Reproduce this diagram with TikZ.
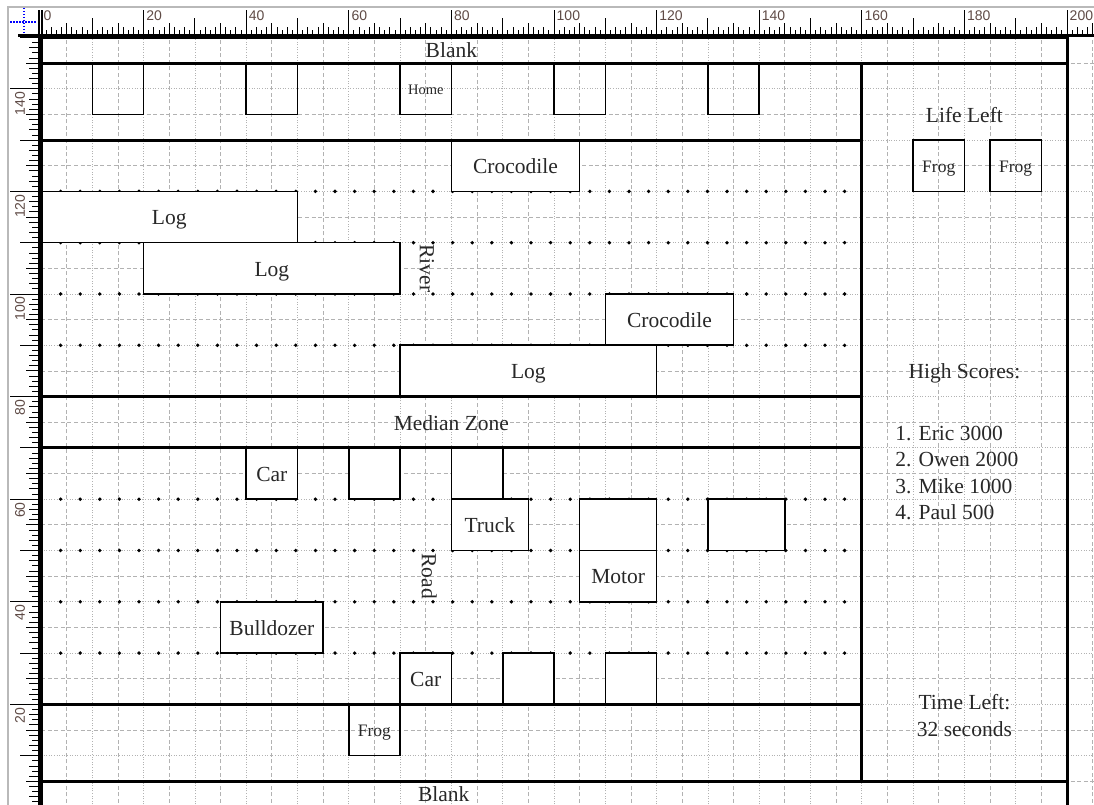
\documentclass[tikz,border=0pt]{standalone}
\usepackage{fontspec}
\setmainfont{Liberation Serif}
\newfontfamily\rulerfont{Liberation Sans}
\definecolor{gridc}{RGB}{178,178,178}
\definecolor{rulertxt}{RGB}{95,75,70}
\definecolor{txt}{RGB}{40,40,40}
\begin{document}
\begin{tikzpicture}[x=1pt,y=1pt,
  gridten/.style={draw=gridc, line width=0.8pt, dash pattern=on 1pt off 1.6pt},
  gridfive/.style={draw=gridc, line width=0.8pt, dash pattern=on 4pt off 2.6pt},
  zone/.style={draw=black, line width=3pt},
  carbox/.style={draw=black, line width=1.6pt, fill=white},
  openbox/.style={draw=black, line width=1.6pt},
  tickmark/.style={draw=black, line width=0.9pt},
  txtbase/.style={font=\fontsize{21.5}{27}\selectfont, text=txt, inner sep=0pt},
  lbl/.style={txtbase, text height=0.68em, text depth=0.22em, yshift=-5.5pt},
  smalllbl/.style={font=\fontsize{17.5}{20}\selectfont, text=txt, inner sep=0pt, yshift=-3pt},
  homelbl/.style={font=\fontsize{14.5}{17}\selectfont, text=txt, inner sep=0pt, yshift=-1pt},
  rlbl/.style={font=\rulerfont\fontsize{14}{14}\selectfont, text=rulertxt, inner sep=0pt}
]
\useasboundingbox (0,0) rectangle (1094,805);
\fill[white] (0,0) rectangle (1094,805);

% ---------- page area ----------
\begin{scope}[shift={(41,-2)}, x=5.13pt, y=5.13pt]
  % grid
  \foreach \k in {1,...,41}{
    \pgfmathtruncatemacro\m{mod(\k,2)}
    \ifnum\m=0
      \draw[gridten] (5*\k,-0.5) -- (5*\k,150);
    \else
      \draw[gridfive] (5*\k,-0.5) -- (5*\k,150);
    \fi
  }
  \foreach \k in {1,...,29}{
    \pgfmathtruncatemacro\m{mod(\k,2)}
    \ifnum\m=0
      \draw[gridten] (0,5*\k) -- (205.3,5*\k);
    \else
      \draw[gridfive] (0,5*\k) -- (205.3,5*\k);
    \fi
  }
  % lane dots
  \foreach \v in {120,110,100,90,60,50,40,30}{
    \foreach \k in {1,...,41}{
      \fill[black] (3.8207*\k,\v) circle (1.9pt);
    }
  }
  % home slots
  \foreach \u in {10,40,70,100,130}{
    \draw[openbox] (\u,135) rectangle (\u+10,145);
  }
  \node[homelbl] (home) at (75,140) {Home};
  % river
  \draw[carbox] (80,120) rectangle (105,130);
  \node[lbl] (croc1) at (92.5,125) {Crocodile};
  \draw[carbox] (0,110) rectangle (50,120);
  \node[lbl] (log1) at (25,115) {Log};
  \draw[carbox] (20,100) rectangle (70,110);
  \node[lbl] (log2) at (45,105) {Log};
  \draw[carbox] (110,90) rectangle (135,100);
  \node[lbl] (croc2) at (122.5,95) {Crocodile};
  \draw[carbox] (70,80) rectangle (120,90);
  \node[lbl] (log3) at (95,85) {Log};
  \node[txtbase, rotate=-90] (river) at (75.2,105) {River};
  % road
  \draw[carbox] (40,60) rectangle (50,70);
  \node[lbl] (car1) at (45,65) {Car};
  \draw[carbox] (60,60) rectangle (70,70);
  \draw[carbox] (80,60) rectangle (90,70);
  \draw[carbox] (80,50) rectangle (95,60);
  \node[lbl] (truck) at (87.5,55) {Truck};
  \draw[carbox] (105,50) rectangle (120,60);
  \draw[carbox] (105,40) rectangle (120,50);
  \node[lbl] (motor) at (112.5,45) {Motor};
  \draw[carbox] (130,50) rectangle (145,60);
  \draw[carbox] (35,30) rectangle (55,40);
  \node[lbl] (bulldozer) at (45,35) {Bulldozer};
  \draw[carbox] (70,20) rectangle (80,30);
  \node[lbl] (car2) at (75,25) {Car};
  \draw[carbox] (90,20) rectangle (100,30);
  \draw[carbox] (110,20) rectangle (120,30);
  \node[txtbase, rotate=-90] (road) at (75.7,45) {Road};
  % frog zone
  \draw[openbox] (60,10) rectangle (70,20);
  \node[smalllbl] (frog) at (65,15) {Frog};
  % median
  \node[lbl] (median) at (80,75) {Median Zone};
  % blanks
  \node[lbl] (blanktop) at (80,147.6) {Blank};
  \node[lbl] (blankbot) at (78.5,2.6) {Blank};
  % right panel
  \node[lbl] (life) at (180,134.9) {Life Left};
  \draw[openbox] (170,120) rectangle (180,130);
  \node[smalllbl] (lf1) at (175,125) {Frog};
  \draw[openbox] (185,120) rectangle (195,130);
  \node[smalllbl] (lf2) at (190,125) {Frog};
  \node[lbl] (high) at (180,85) {High Scores:};
  \node[lbl, anchor=west] (s1) at (166.5,72.9) {1. Eric 3000};
  \node[lbl, anchor=west] (s2) at (166.5,67.8) {2. Owen 2000};
  \node[lbl, anchor=west] (s3) at (166.5,62.7) {3. Mike 1000};
  \node[lbl, anchor=west] (s4) at (166.5,57.6) {4. Paul 500};
  \node[lbl, align=center] (time) at (180,15.2) {Time Left:\\32 seconds};
  % zone lines
  \draw[zone] (0,-1) -- (0,150) -- (200,150) -- (200,-1);
  \draw[zone] (0,145) -- (200,145);
  \draw[zone] (0,5) -- (200,5);
  \draw[zone] (160,5) -- (160,145);
  \draw[zone] (0,130) -- (160,130);
  \draw[zone] (0,80) -- (160,80);
  \draw[zone] (0,70) -- (160,70);
  \draw[zone] (0,20) -- (160,20);
\end{scope}

% ---------- rulers ----------
\fill[white] (0,771) rectangle (1094,805);
\fill[white] (0,0) rectangle (38,805);
\draw[gray!55, line width=1.6pt] (8,0) -- (8,798) -- (1094,798);
% top ruler ticks
\foreach \i in {0,...,205}{
  \pgfmathsetmacro\tl{mod(\i,20)==0 ? 25 : (mod(\i,10)==0 ? 17 : (mod(\i,5)==0 ? 12 : (mod(\i,2)==0 ? 8 : 5)))}
  \draw[tickmark] ({41+5.13*\i},770) -- ++(0,\tl);
}
\foreach \i in {0,20,...,200}{
  \node[rlbl, anchor=north west] (rt\i) at ({43.5+5.13*\i},794) {\i};
}
% left ruler ticks
\foreach \i in {0,...,150}{
  \pgfmathsetmacro\tl{mod(\i,20)==0 ? 28 : (mod(\i,10)==0 ? 18 : (mod(\i,5)==0 ? 12 : (mod(\i,2)==0 ? 9 : 6)))}
  \draw[tickmark] (38,{5.13*\i-2}) -- ++(-\tl,0);
}
\foreach \i in {20,40,...,140}{
  \node[rlbl, rotate=90, anchor=east] (rl\i) at (20,{5.13*\i-5}) {\i};
}
% ruler edges
\draw[black, line width=3pt] (18,769.5) -- (1094,769.5);
\draw[black, line width=1.4pt] (39,0) -- (39,795);
\draw[black, line width=1pt] (42.6,771) -- (42.6,795);
% origin crosshair
\draw[blue, line width=1.2pt, dash pattern=on 1.5pt off 1.5pt] (24,797) -- (24,772);
\draw[blue, line width=1.2pt, dash pattern=on 1.5pt off 1.5pt] (10,783) -- (37,783);
\end{tikzpicture}
\end{document}
